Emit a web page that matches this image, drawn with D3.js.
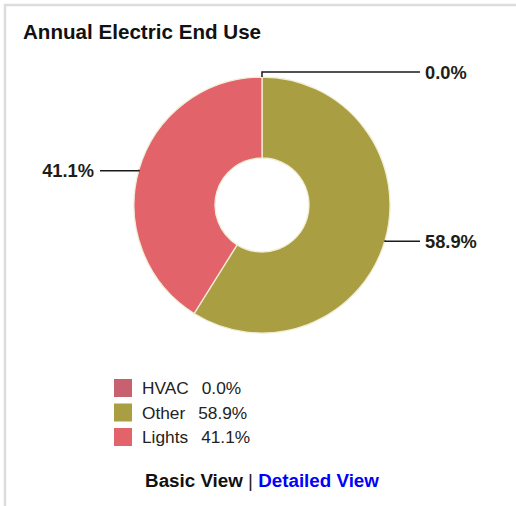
<!DOCTYPE html>
<html>
<head>
<meta charset="utf-8">
<script src="https://cdn.jsdelivr.net/npm/d3@7"></script>
<style>
  html, body { margin: 0; padding: 0; background: #fff; }
  svg { display: block; font-family: "Liberation Sans", Arial, sans-serif; }
</style>
</head>
<body>
<div id="chart"></div>
<script>
// chart data
const categories = ["HVAC", "Other", "Lights"]
const values = [0.0, 58.9, 41.1]
const colors = ["#c8606f", "#a99e42", "#e3636b"]
const labels = values.map(v => v.toFixed(1) + "%")

let width = 516
let height = 506
let cx = 262
let cy = 205
let outerR = 128
let innerR = 47

let svg = d3.select("#chart")
            .append("svg")
            .attr("width", width)
            .attr("height", height)

// panel border (top + left, clipped by window)
svg.append("path")
   .attr("d", `M5,${height} L5,5 L${width},5`)
   .attr("fill", "none")
   .attr("stroke", "#dcdcdc")
   .attr("stroke-width", 2.5)

svg.append("text")
   .attr("x", 23)
   .attr("y", 39)
   .attr("font-size", 20.6)
   .attr("font-weight", "bold")
   .attr("fill", "#111")
   .text("Annual Electric End Use")

let pie = d3.pie().sort(null).value(d => d)
let arcs = pie(values)

let arc = d3.arc().innerRadius(innerR).outerRadius(outerR)

let g = svg.append("g").attr("transform", `translate(${cx},${cy})`)

g.selectAll("path.slice")
 .data(arcs)
 .enter().append("path")
 .attr("class", "slice")
 .attr("d", arc)
 .attr("fill", (d, i) => colors[i])
 .attr("stroke", "#f1eed6")
 .attr("stroke-width", 1.3)

// leader lines + labels
arcs.forEach((d, i) => {
  let mid = (d.startAngle + d.endAngle) / 2
  let px = outerR * Math.sin(mid)
  let py = -outerR * Math.cos(mid)
  let right = Math.sin(mid) >= 0
  let ly = Math.abs(Math.sin(mid)) < 0.2 ? py - 5 : py + 1
  let endX = right ? 158 : -162
  g.append("path")
   .attr("d", `M${px},${py} L${px},${ly} L${endX},${ly}`)
   .attr("fill", "none")
   .attr("stroke", "#1a1a1a")
   .attr("stroke-width", 1.5)
  g.append("text")
   .attr("x", right ? endX + 5 : endX - 6)
   .attr("y", ly)
   .attr("dy", "0.36em")
   .attr("text-anchor", right ? "start" : "end")
   .attr("font-size", 18.3)
   .attr("font-weight", "bold")
   .attr("fill", "#1e1e16")
   .text(labels[i])
})

// legend
let legend = svg.append("g").attr("transform", "translate(114,379)")
let rows = legend.selectAll("g")
  .data(categories)
  .enter().append("g")
  .attr("transform", (d, i) => `translate(0,${i * 24.5})`)

rows.append("rect")
    .attr("width", 18)
    .attr("height", 18)
    .attr("fill", (d, i) => colors[i])

rows.append("text")
    .attr("x", 28)
    .attr("y", 9)
    .attr("dy", "0.36em")
    .attr("font-size", 17.3)
    .attr("fill", "#222")
    .text(d => d)
    .append("tspan")
    .attr("dx", 13)
    .text((d, i) => labels[i])

// bottom links
let links = svg.append("text")
   .attr("x", 262)
   .attr("y", 487)
   .attr("text-anchor", "middle")
   .attr("font-size", 18.8)
   .attr("font-weight", "bold")
links.append("tspan").attr("fill", "#111").text("Basic View")
links.append("tspan").attr("fill", "#222").attr("font-weight", "normal").text(" | ")
links.append("tspan").attr("fill", "#0000ff").text("Detailed View")
</script>
</body>
</html>
